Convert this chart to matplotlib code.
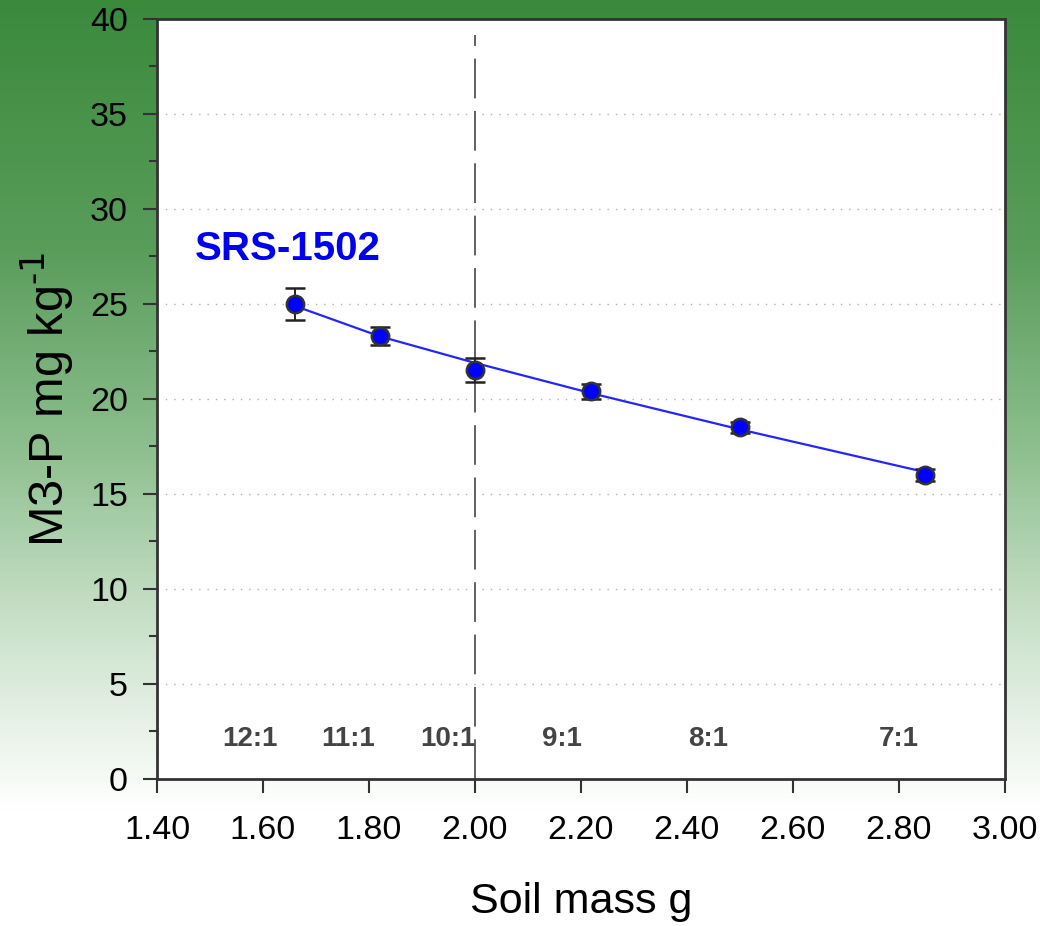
import numpy as np
import matplotlib
matplotlib.use("Agg")
import matplotlib.pyplot as plt
from matplotlib.colors import LinearSegmentedColormap
from matplotlib.ticker import MultipleLocator, FormatStrFormatter

plt.rcParams['font.family'] = ['Liberation Sans', 'DejaVu Sans']
plt.rcParams['mathtext.default'] = 'regular'

# measured points (soil mass g vs M3-P mg/kg) with error bars
soil_mass = [1.66, 1.82, 2.00, 2.22, 2.50, 2.85]
m3p = [25.0, 23.3, 21.5, 20.4, 18.5, 16.0]
m3p_err = [0.85, 0.47, 0.63, 0.38, 0.3, 0.3]

# fitted curve at the same x positions
fit_x = [1.66, 1.82, 2.00, 2.22, 2.50, 2.85]
fit_y = [24.9, 23.3, 21.9, 20.3, 18.4, 16.15]

# extraction ratio labels along the bottom
ratio_labels = ['12:1', '11:1', '10:1', '9:1', '8:1', '7:1']
ratio_x = [1.575, 1.76, 1.95, 2.165, 2.44, 2.80]
ratio_y = 2.1

fig = plt.figure(figsize=(10.4, 9.26), dpi=100)

# green gradient background behind everything
bg = fig.add_axes([0, 0, 1, 1], zorder=-10)
bg_cmap = LinearSegmentedColormap.from_list('bg', [
    (0.0, '#3a8a3c'), (0.27, '#5a9d5b'), (0.49, '#8fc090'),
    (0.65, '#c3ddc3'), (0.76, '#e1eee1'), (0.875, '#ffffff'), (1.0, '#ffffff')])
grad = np.linspace(0, 1, 500).reshape(-1, 1)
bg.imshow(grad, aspect='auto', cmap=bg_cmap, extent=[0, 1, 1, 0])
bg.axis('off')

ax = fig.add_axes([0.151, 0.1588, 0.815, 0.8207])
ax.set_facecolor('white')

ax.plot(fit_x, fit_y, color='#2424ff', lw=1.6, zorder=3)
ax.errorbar(soil_mass, m3p, yerr=m3p_err, fmt='o', ms=12.5, mfc='#0000ff',
            mec='#333333', mew=1.8, ecolor='#222222', elinewidth=1.4,
            capsize=7.5, capthick=1.4, zorder=4)

ax.plot([2.0, 2.0], [0, 39.15], color='#555555', lw=1.3,
        dashes=(22, 7), zorder=2)

for lab, xx in zip(ratio_labels, ratio_x):
    ax.text(xx, ratio_y, lab, ha='center', va='center', fontsize=20,
            fontweight='bold', color='#444444')

ax.text(1.472, 27.9, 'SRS-1502', ha='left', va='center', fontsize=29,
        fontweight='bold', color='#0000ee')

ax.set_xlim(1.40, 3.00)
ax.set_ylim(0, 40)
ax.xaxis.set_major_locator(MultipleLocator(0.2))
ax.xaxis.set_major_formatter(FormatStrFormatter('%.2f'))
ax.yaxis.set_major_locator(MultipleLocator(5))
ax.yaxis.set_minor_locator(MultipleLocator(2.5))

for yy in range(5, 40, 5):
    ax.axhline(yy, color='#b0b0b0', lw=1.0, ls=(0, (1, 5)), zorder=1)

for s in ax.spines.values():
    s.set_color('#333333')
    s.set_linewidth(2)

ax.tick_params(axis='both', which='major', direction='out', length=10,
               width=1.5, color='#333333', labelsize=24.5)
ax.tick_params(axis='x', pad=16)
ax.tick_params(axis='y', pad=11)
ax.tick_params(axis='y', which='minor', direction='out', length=6,
               width=1.5, color='#333333')

ax.set_xlabel('Soil mass g', fontsize=31, labelpad=26)
ax.set_ylabel('M3-P mg kg$^{\\text{-1}}$', fontsize=35, labelpad=10)

fig.savefig('out.png', dpi=100)
